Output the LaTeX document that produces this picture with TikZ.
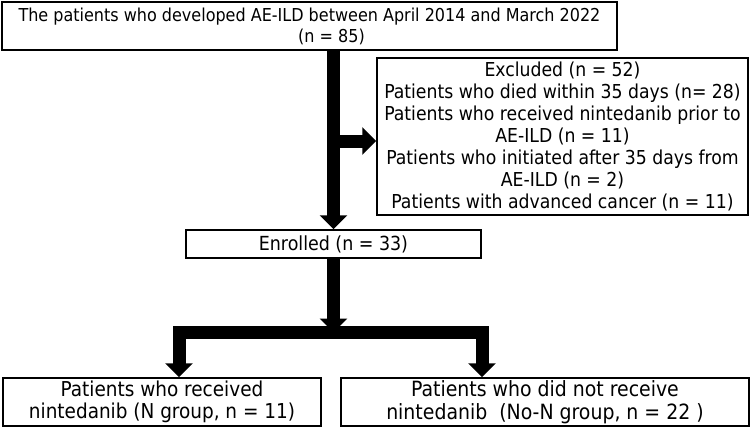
\documentclass[tikz,border=0pt]{standalone}
\usepackage{fontspec}
\setmainfont{DejaVu Sans Condensed}
\usetikzlibrary{arrows.meta}
\tikzset{
  box/.style={draw=black, line width=1.5pt, inner sep=0pt, align=center},
  fat/.style={line width=13pt, line join=miter, black},
  tipv/.style={-{Triangle[width=27pt,length=14pt]}},
  tipvv/.style={{Triangle[width=27pt,length=14pt]}-{Triangle[width=27pt,length=14pt]}},
}
\begin{document}
\begin{tikzpicture}[x=1pt,y=-1pt]
\useasboundingbox[fill=white] (0,0) rectangle (752,429);
\node[box, font=\fontsize{17.8}{21}\selectfont, minimum width=615pt, minimum height=48pt] (top) at (309.5,26)
  {The patients who developed AE-ILD between April 2014 and March 2022\\ \hspace*{44pt}(n = 85)};
\node[box, font=\fontsize{19.2}{22}\selectfont, minimum width=371pt, minimum height=157pt] (exc) at (562.5,136.5)
  {Excluded (n = 52)\\ Patients who died within 35 days (n= 28)\\ Patients who received nintedanib prior to\\ AE-ILD (n = 11)\\ Patients who initiated after 35 days from\\ AE-ILD (n = 2)\\ Patients with advanced cancer (n = 11)};
\node[box, font=\fontsize{19.4}{22}\selectfont, minimum width=295pt, minimum height=28pt] (enr) at (333.5,244) {Enrolled (n = 33)};
\node[box, font=\fontsize{20.5}{22.5}\selectfont, minimum width=318pt, minimum height=48pt] (ng) at (162,402)
  {Patients who received\\ nintedanib (N group, n = 11)};
\node[box, font=\fontsize{21}{22.5}\selectfont, minimum width=408pt, minimum height=48pt] (nn) at (545,402)
  {Patients who did not receive\\ nintedanib\ \ (No-N group, n = 22 )};
\coordinate (br1) at (333.5,141);
\coordinate (bl) at (179,332.5);
\coordinate (brr) at (482,332.5);
\draw[fat,tipv] (top.south -| enr.north) -- (enr.north);
\draw[fat,tipv] (br1) -- (br1 -| exc.west);
\draw[fat,tipv] (enr.south) -- (enr.south |- bl);
\draw[fat,tipvv] (bl |- ng.north) -- (bl) -- (brr) -- (brr |- nn.north);
\end{tikzpicture}
\end{document}
